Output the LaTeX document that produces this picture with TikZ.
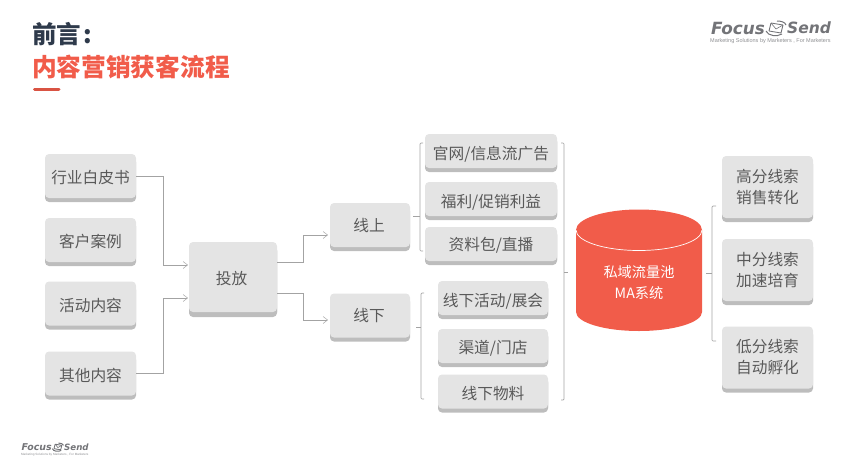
\documentclass[tikz,border=0pt]{standalone}
\usepackage{xcolor}
\usepackage{fontspec}
\usepackage{tikz}
\usetikzlibrary{arrows.meta, shadows}
\setmainfont{Noto Sans CJK SC}
\newfontfamily\logofont{DejaVu Sans}
\newfontfamily\sublogofont{Liberation Sans}
\definecolor{cardgray}{HTML}{E4E4E4}
\definecolor{edgegray}{HTML}{BDBDBD}
\definecolor{linegray}{HTML}{A3A3A3}
\definecolor{textgray}{HTML}{595959}
\definecolor{poolred}{HTML}{F15C4A}
\definecolor{titledark}{HTML}{2E3A4B}
\definecolor{logogray}{HTML}{737478}
\tikzset{
  logo/.pic={
    \node[transform shape, anchor=west, inner sep=0pt, text=logogray, font=\logofont\bfseries\itshape\fontsize{16.8}{16.8}\selectfont] (focus) at (0,0) {Focus};
    \node[transform shape, anchor=west, inner sep=0pt, text=logogray, font=\logofont\bfseries\itshape\fontsize{15.5}{15.5}\selectfont] (send) at (76,0) {Send};
    \node[transform shape, anchor=west, inner sep=0pt, text=logogray!80, font=\sublogofont\fontsize{5.5}{6}\selectfont] (slogan) at (-1,13.5) {Marketing Solutions by Marketers , For Marketers};
    \draw[logogray, line width=.9pt, rounded corners=.5pt] (60,-5) -- (72,-3) -- (70,5) -- (58,3) -- cycle;
    \draw[logogray, line width=.6pt] (60,-5) -- (65,1) -- (72,-3);
    \draw[logogray, line width=1pt] (55,3) .. controls (57,8) and (66,9) .. (71,6);
    \draw[logogray, line width=1pt] (75,-3) .. controls (74,-6) and (70,-7) .. (66,-7);
  }
}

\begin{document}
\begin{tikzpicture}[x=1pt, y=-1pt]
\tikzstyle{card}=[fill=cardgray, rounded corners=4pt, inner sep=0pt, align=center, text=textgray,
  font=\fontsize{15.7}{21}\selectfont, general shadow={fill=edgegray, shadow yshift=-4pt}]
\tikzstyle{lowcard}=[card, text height=15.5pt, text depth=0pt]
\tikzstyle{thincard}=[card, text height=17.5pt, text depth=0pt, general shadow={fill=edgegray, shadow yshift=-3pt}]
\tikzstyle{link}=[draw=linegray, line width=.7pt]
\tikzstyle{brace}=[draw=linegray, line width=.7pt, rounded corners=1pt]
\tikzstyle{arrow}=[link, -{Straight Barb[length=4.5pt, width=7pt, line width=.5pt]}]
\useasboundingbox (0,0) rectangle (852,474);

\node[anchor=west, inner sep=0pt, text=titledark, font=\bfseries\fontsize{24.5}{24.5}\selectfont] (title) at (32,34) {前言\hspace{2pt}:};
\node[anchor=west, inner sep=0pt, text=poolred, font=\bfseries\fontsize{24.7}{24.7}\selectfont] (subtitle) at (32,67) {内容营销获客流程};
\draw[poolred!90!black, line width=3pt, line cap=round] (34.5,89) -- (59,89);

\pic at (711,28) {logo};
\pic[scale=.56] at (21.5,447) {logo};

% contents
\node[lowcard, minimum width=91pt, minimum height=44pt] (baipi) at (90.5,176) {行业白皮书};
\node[lowcard, minimum width=91pt, minimum height=44pt] (anli) at (90.5,240) {客户案例};
\node[lowcard, minimum width=91pt, minimum height=44pt] (huodong) at (90.5,303.5) {活动内容};
\node[lowcard, minimum width=91pt, minimum height=44pt] (qita) at (90.5,373.5) {其他内容};
\node[lowcard, minimum width=88pt, minimum height=70pt, general shadow={fill=edgegray, shadow yshift=-5pt}] (toufang) at (233,277) {\hspace{-3pt}投放};

% channels
\node[card, minimum width=80pt, minimum height=44pt] (online) at (370,225) {\hspace{-2pt}线上};
\node[card, minimum width=80pt, minimum height=44pt] (offline) at (370,315.5) {\hspace{-2pt}线下};
\node[thincard, minimum width=132pt, minimum height=34pt] (guanwang) at (491,151) {官网/信息流广告};
\node[thincard, minimum width=132pt, minimum height=34pt] (fuli) at (491,199) {福利/促销利益};
\node[thincard, text height=13.5pt, minimum width=132pt, minimum height=34pt] (ziliao) at (491,244) {资料包/直播};
\node[thincard, minimum width=110pt, minimum height=34pt] (zhanhui) at (493,298) {线下活动/展会};
\node[thincard, text height=15.5pt, minimum width=110pt, minimum height=34pt] (qudao) at (493,346) {渠道/门店};
\node[thincard, text height=16pt, minimum width=110pt, minimum height=34pt] (wuliao) at (493,391.5) {线下物料};

% pool
\fill[poolred] (576,230) arc[start angle=180, end angle=0, x radius=63pt, y radius=20.5pt]
  -- (702,312) arc[start angle=0, end angle=-180, x radius=63pt, y radius=19pt] -- cycle;
\draw[white, line width=.7pt] (576,230) arc[start angle=180, end angle=360, x radius=63pt, y radius=20.5pt];
\node[inner sep=0pt, align=center, text=white, font=\fontsize{14.2}{21}\selectfont] (pool) at (639,282.5) {私域流量池\\MA系统};

% leads
\node[card, minimum width=91pt, minimum height=62pt] (gaofen) at (767.5,187) {高分线索\\销售转化};
\node[card, minimum width=91pt, minimum height=62pt] (zhongfen) at (767.5,270) {中分线索\\加速培育};
\node[card, minimum width=91pt, minimum height=62pt] (difen) at (767.5,357.5) {低分线索\\自动孵化};

\coordinate (tfin1) at (188,265);
\coordinate (tfin2) at (188,298);
\coordinate (tfout1) at (277,262);
\coordinate (tfout2) at (277,293);
\coordinate (onin) at (328,235);
\coordinate (offin) at (328,320);
\draw[arrow] (baipi.east) -- ++(27,0) |- (tfin1);
\draw[arrow] (qita.east) -- ++(27,0) |- (tfin2);
\draw[arrow] (tfout1) -- ++(26,0) |- (onin);
\draw[arrow] (tfout2) -- ++(26,0) |- (offin);

\coordinate (upstem) at (413,216);
\coordinate (uptop) at (423,143);
\coordinate (upbot) at (423,251);
\coordinate (downstem) at (416,327);
\coordinate (downtop) at (424,293);
\coordinate (downbot) at (424,399);
\coordinate (bigstem) at (568,272);
\coordinate (bigtop) at (561,143);
\coordinate (bigbot) at (561,400);
\coordinate (leadstem) at (706,273);
\coordinate (leadtop) at (716,206);
\coordinate (leadbot) at (716,341);

\draw[brace] (uptop) -- ++(-3,0) |- (upbot);
\draw[link] (upstem) -- ++(7,0);
\draw[brace] (downtop) -- ++(-3,0) |- (downbot);
\draw[link] (downstem) -- ++(5,0);
\draw[brace] (bigtop) -- ++(3,0) |- (bigbot);
\draw[link] (bigstem) -- ++(-4,0);
\draw[brace] (leadtop) -- ++(-4,0) |- (leadbot);
\draw[link] (leadstem) -- ++(6,0);

\end{tikzpicture}
\end{document}
